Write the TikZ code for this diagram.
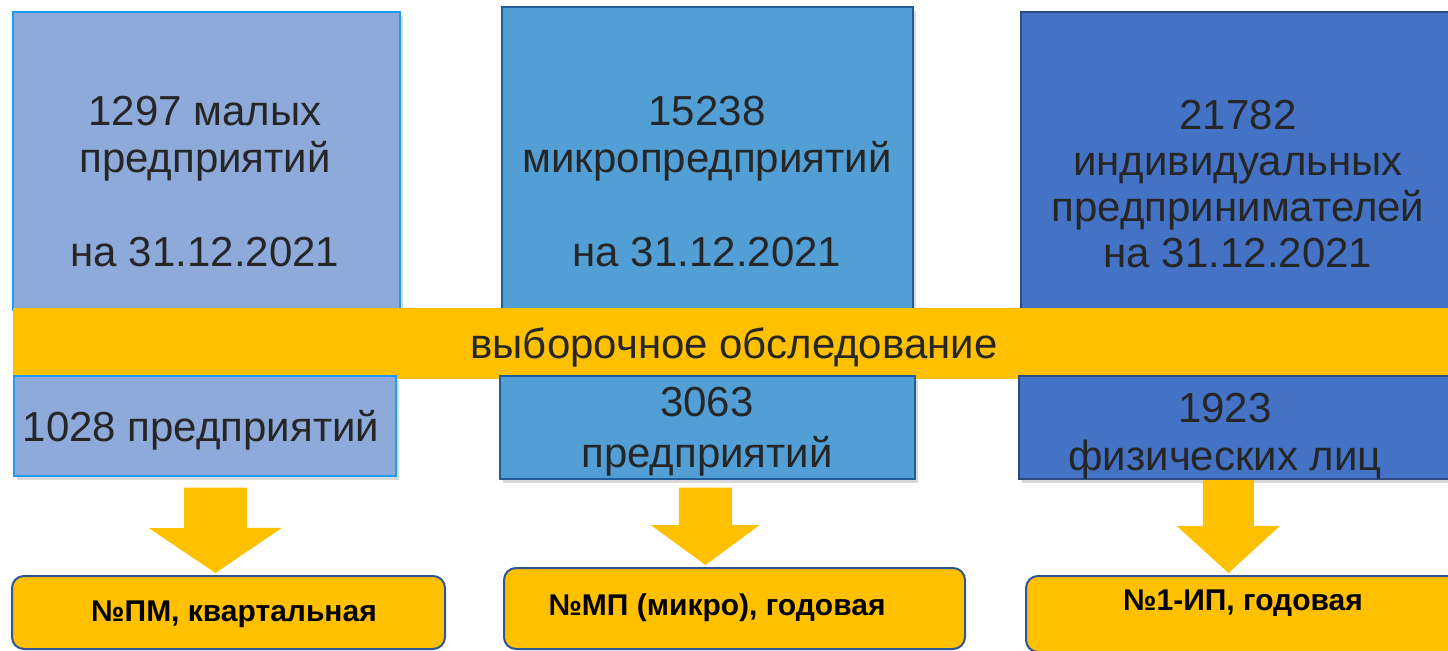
\documentclass[tikz,border=0pt]{standalone}
\usepackage{fontspec}
\setmainfont{Liberation Sans}
\usetikzlibrary{arrows.meta, calc, shadows}

\definecolor{smallfill}{HTML}{8EAADB}
\definecolor{smalledge}{HTML}{1E9BF5}
\definecolor{microfill}{HTML}{529FD6}
\definecolor{microedge}{HTML}{1F5C99}
\definecolor{ipfill}{HTML}{4472C4}
\definecolor{ipedge}{HTML}{2B4A80}
\definecolor{bandyellow}{HTML}{FFC000}
\definecolor{formedge}{HTML}{2F5597}
\definecolor{textgray}{HTML}{262626}

\tikzset{
  box/.style={rectangle, anchor=north west, inner sep=0pt, line width=0.8pt,
    drop shadow={shadow xshift=1.5pt, shadow yshift=-2pt, opacity=0.3}},
  formbox/.style={rectangle, rounded corners=6pt, anchor=north west, inner sep=0pt,
    line width=1pt, draw=formedge, fill=bandyellow},
  bigtext/.style={align=center, inner sep=0pt, text=textgray},
  formtext/.style={inner sep=0pt, font=\fontsize{15}{18}\selectfont\bfseries},
  blockarrow/.style={bandyellow, line width=#1}
}

\begin{document}
\begin{tikzpicture}[x=0.5pt, y=-0.5pt]
  \useasboundingbox (0,0) rectangle (1448,650);
  \clip (0,0) rectangle (1448,650);

  \node[box, fill=smallfill, draw=smalledge, minimum width=193.5pt, minimum height=149pt] (t1) at (12,11) {};
  \node[box, fill=microfill, draw=microedge, minimum width=205.5pt, minimum height=151.5pt] (t2) at (501,6) {};
  \node[box, fill=ipfill, draw=ipedge, minimum width=218pt, minimum height=149pt] (t3) at (1020,11) {};

  \node[bigtext, font=\fontsize{21}{23.5}\selectfont] (t1txt) at (205,182) {1297 малых\\предприятий\\[23.5pt]на 31.12.2021};
  \node[bigtext, font=\fontsize{21}{23.5}\selectfont] (t2txt) at (707,182) {15238\\микропредприятий\\[23.5pt]на 31.12.2021};
  \node[bigtext, font=\fontsize{21}{23}\selectfont] (t3txt) at (1238,184) {21782\\индивидуальных\\предпринимателей\\на 31.12.2021};

  \node[rectangle, anchor=north west, fill=bandyellow, minimum width=721.5pt, minimum height=35.5pt] (band) at (13,308) {};
  \node[bigtext, font=\fontsize{21}{23.5}\selectfont] (bandtxt) at (734,347) {выборочное обследование};

  \node[box, fill=smallfill, draw=smalledge, minimum width=191pt, minimum height=50pt] (m1) at (13,375) {};
  \node[box, fill=microfill, draw=microedge, minimum width=207.5pt, minimum height=51.5pt] (m2) at (499,375) {};
  \node[box, fill=ipfill, draw=ipedge, minimum width=219pt, minimum height=51.5pt] (m3) at (1018,375) {};

  \node[bigtext, font=\fontsize{21}{23.5}\selectfont] (m1txt) at (201,430) {1028 предприятий};
  \node[bigtext, font=\fontsize{21}{25.5}\selectfont] (m2txt) at (707,432) {3063\\предприятий};
  \node[bigtext, font=\fontsize{21}{24}\selectfont] (m3txt) at (1225,436) {1923\\физических лиц};

  \node[formbox, minimum width=216.5pt, minimum height=36.5pt] (f1) at (11,575) {};
  \node[formbox, minimum width=230.5pt, minimum height=40.5pt] (f2) at (503,567) {};
  \node[formbox, minimum width=218pt, minimum height=38pt] (f3) at (1025,575) {};

  \node[formtext] (f1txt) at (234,614) {№ПМ, квартальная};
  \node[formtext] (f2txt) at (717,608) {№МП (микро), годовая};
  \node[formtext] (f3txt) at (1243,603) {№1-ИП, годовая};

  \draw[blockarrow=31.5pt, -{Triangle[width=66.5pt, length=22.5pt, line width=0pt]}]
    ($(m1.south)+(10.5,11)$) -- ($(f1.north)+(-13,-2)$);
  \draw[blockarrow=26.5pt, -{Triangle[width=54.5pt, length=20pt, line width=0pt]}]
    ($(m2.south)+(-2,8)$) -- ($(f2.north)+(-29,-2)$);
  \draw[blockarrow=25.5pt, -{Triangle[width=51.5pt, length=23.5pt, line width=0pt]}]
    ($(m3.south)+(-9.5,0.5)$) -- ($(f3.north)+(-15.5,-2)$);
\end{tikzpicture}
\end{document}
